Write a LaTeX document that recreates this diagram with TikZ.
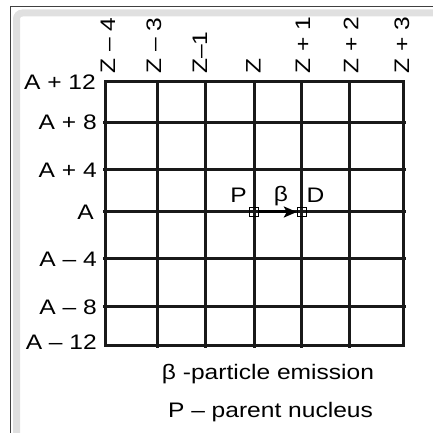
\documentclass[tikz,border=0pt]{standalone}
\usepackage{fontspec}
\setmainfont{Liberation Sans}[FakeStretch=1.17]
\usetikzlibrary{arrows.meta}

\begin{document}
\begin{tikzpicture}[x=1pt, y=1pt,
		gridline/.style={line width=3pt, black!90},
		nucbox/.style={draw, thin, minimum size=9pt, inner sep=0pt},
		>={Stealth[length=13pt, width=11pt, inset=3pt]},   %Pfeilspitzen
		font=\fontsize{21}{24}\selectfont]
		\useasboundingbox (0,0) rectangle (432,433);
		%Rahmen
		\draw[line width=7pt, black!12, rounded corners=6pt] (16.5,-10) -- (16.5,420) -- (445,420);
		\draw[line width=1.3pt, black!75] (10.7,-10) -- (10.7,426.3) -- (445,426.3);
		%Raster zeichnen
		\draw[gridline] (105.5,87) rectangle (403.5,351);
		\foreach \x in {157,205,254,301.5,349} \draw[gridline] (\x,351) -- (\x,84.5);
		\foreach \y in {310.5,263,221,174,126} \draw[gridline] (103,\y) -- (406,\y);
		% Achsen beschriften
		\foreach \x/\t [count=\i] in {108/{Z -- 4},154/{Z -- 3},200/{Z--1},253.5/Z,303/{Z + 1},351/{Z + 2},402/{Z + 3}}
			\node[rotate=90, anchor=west, inner sep=0pt] (z\i) at (\x,359) {\t};
		\foreach \y/\xe/\t [count=\i] in {351/96/{A + 12},310.5/97/{A + 8},263/97/{A + 4},221/94/A,174/97/{A -- 4},126/97/{A -- 8},90.5/97/{A -- 12}}
			\node[anchor=east, inner sep=0pt] (a\i) at (\xe,\y) {\t};
		%Zerfall
		\node[nucbox] (P) at (254,221) {};
		\node[nucbox] (D) at (301.5,221) {};
		\draw[->, line width=3pt] (P) -- (D);
		\node[anchor=south east, inner sep=0pt] (lblP) at (247,230) {P};
		\node[anchor=base, inner sep=0pt] (lblbeta) at (281,231) {β};
		\node[anchor=south west, inner sep=0pt] (lblD) at (306.5,230) {D};
		%Legende
		\node[anchor=base, inner sep=0pt] (leg1) at (268,53) {β -particle emission};
		\node[anchor=base, inner sep=0pt] (leg2) at (270.5,16) {P -- parent nucleus};
	\end{tikzpicture}
\end{document}
